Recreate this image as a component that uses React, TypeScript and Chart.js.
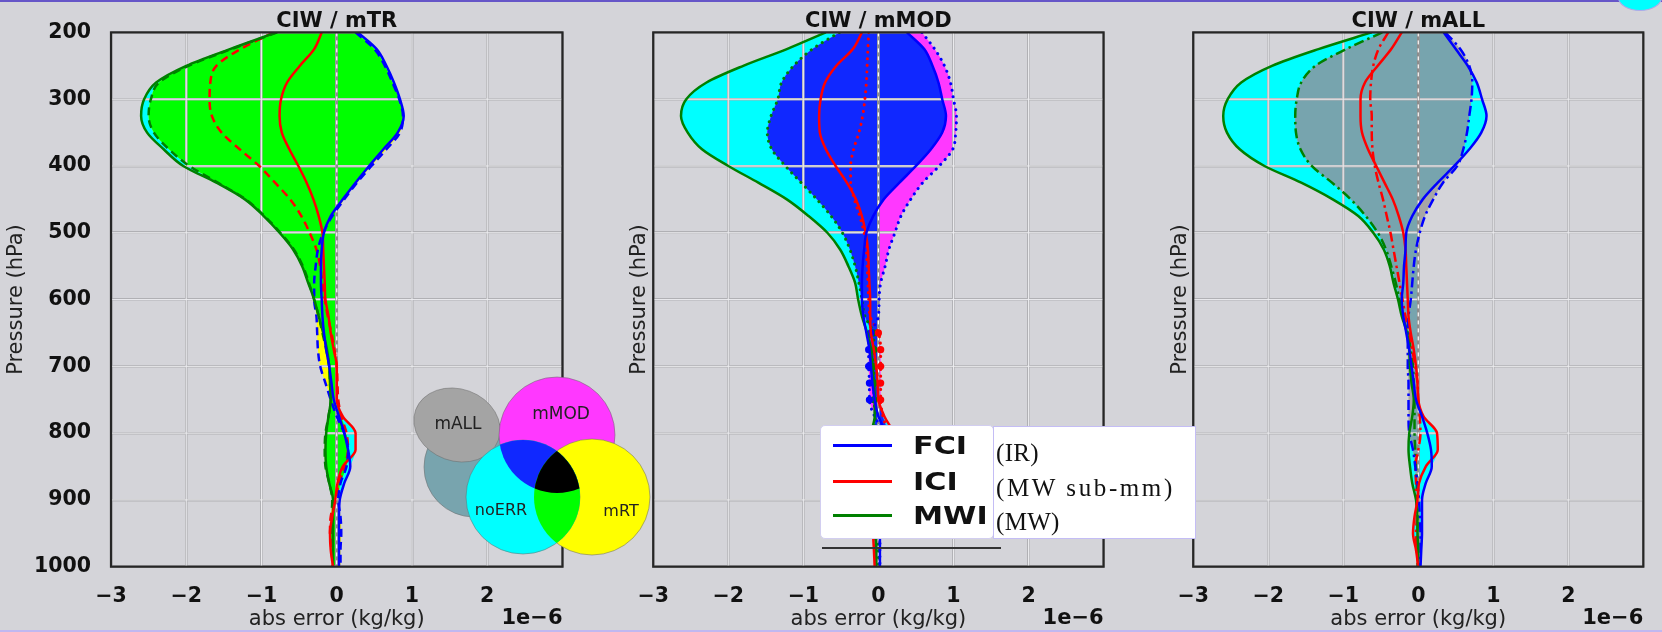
import React, { useEffect, useRef } from 'react';
import { Chart, registerables } from 'chart.js';

Chart.register(...registerables);

// ---------- data ----------
const PRESSURE = [200, 225, 250, 275, 300, 325, 350, 375, 400, 425, 450, 475, 500, 525, 550, 575, 600, 625, 650, 675, 700, 725, 750, 775, 800, 825, 850, 875, 900, 925, 950, 975, 1000];
const X_TICK_VALUES = [-3, -2, -1, 0, 1, 2, 3];
const ZERO_X = [0, 0];
const ZERO_P = [200, 1000];
const MMOD_MARKER_LEVELS = [650, 675, 700, 725, 750];

// panel 1 : CIW / mTR
const MTR_FCI_NOERR = [0.28, 0.53, 0.66, 0.76, 0.84, 0.89, 0.81, 0.62, 0.43, 0.25, 0.08, -0.08, -0.17, -0.2, -0.21, -0.21, -0.2, -0.19, -0.17, -0.14, -0.1, -0.07, -0.04, 0.03, 0.1, 0.15, 0.18, 0.1, 0.04, 0.03, 0.03, 0.03, 0.03];
const MTR_ICI_NOERR = [-0.2, -0.3, -0.49, -0.66, -0.74, -0.76, -0.73, -0.63, -0.51, -0.4, -0.31, -0.24, -0.19, -0.18, -0.17, -0.16, -0.15, -0.11, -0.08, -0.04, 0.0, 0.0, 0.0, 0.08, 0.25, 0.25, 0.08, 0.01, -0.02, -0.06, -0.09, -0.08, -0.05];
const MTR_MWI_NOERR = [-0.8, -1.42, -2.0, -2.4, -2.56, -2.6, -2.52, -2.3, -2.04, -1.6, -1.22, -0.97, -0.76, -0.58, -0.46, -0.38, -0.3, -0.24, -0.18, -0.13, -0.1, -0.09, -0.08, -0.11, -0.14, -0.15, -0.14, -0.1, -0.05, -0.05, -0.05, -0.05, -0.05];
const MTR_FCI_MOD = [0.25, 0.5, 0.64, 0.74, 0.83, 0.88, 0.84, 0.66, 0.46, 0.27, 0.1, -0.06, -0.18, -0.25, -0.28, -0.3, -0.3, -0.27, -0.26, -0.25, -0.22, -0.15, -0.08, 0.0, 0.1, 0.15, 0.13, 0.05, 0.02, 0.05, 0.06, 0.05, 0.05];
const MTR_ICI_MOD = [-0.84, -1.28, -1.6, -1.68, -1.69, -1.66, -1.53, -1.29, -1.03, -0.82, -0.62, -0.47, -0.36, -0.27, -0.22, -0.19, -0.16, -0.12, -0.07, -0.03, 0.0, 0.01, 0.02, 0.06, 0.13, 0.15, 0.1, 0.03, -0.02, -0.08, -0.09, -0.07, -0.05];
const MTR_MWI_MOD = [-0.79, -1.4, -1.97, -2.36, -2.47, -2.5, -2.43, -2.23, -1.96, -1.58, -1.21, -0.96, -0.75, -0.57, -0.45, -0.37, -0.3, -0.24, -0.19, -0.14, -0.1, -0.09, -0.08, -0.11, -0.15, -0.16, -0.15, -0.1, -0.06, -0.07, -0.08, -0.06, -0.05];

// panel 2 : CIW / mMOD
const MMOD_FCI_NOERR = [0.38, 0.61, 0.72, 0.8, 0.85, 0.9, 0.85, 0.7, 0.5, 0.28, 0.07, -0.07, -0.16, -0.19, -0.21, -0.22, -0.22, -0.2, -0.16, -0.12, -0.1, -0.08, -0.05, 0.0, 0.1, 0.15, 0.12, 0.05, 0.02, 0.02, 0.02, 0.02, 0.02];
const MMOD_ICI_NOERR = [-0.22, -0.34, -0.56, -0.71, -0.77, -0.79, -0.78, -0.7, -0.57, -0.42, -0.3, -0.22, -0.17, -0.14, -0.13, -0.12, -0.11, -0.11, -0.1, -0.06, -0.03, -0.01, 0.0, 0.08, 0.2, 0.22, 0.1, 0.02, -0.03, -0.06, -0.07, -0.06, -0.05];
const MMOD_MWI_NOERR = [-0.7, -1.22, -1.8, -2.29, -2.56, -2.63, -2.54, -2.35, -2.0, -1.6, -1.22, -0.93, -0.68, -0.51, -0.4, -0.31, -0.27, -0.22, -0.15, -0.1, -0.08, -0.06, -0.05, -0.05, -0.1, -0.12, -0.1, -0.06, -0.04, -0.04, -0.04, -0.03, -0.03];
const MMOD_FCI_MOD = [0.58, 0.75, 0.88, 0.96, 1.0, 1.04, 1.03, 0.99, 0.81, 0.59, 0.43, 0.3, 0.22, 0.14, 0.09, 0.03, 0.01, 0.0, -0.1, -0.13, -0.13, -0.12, -0.12, -0.05, 0.08, 0.12, 0.08, 0.03, 0.02, 0.02, 0.02, 0.02, 0.02];
const MMOD_ICI_MOD = [-0.13, -0.14, -0.15, -0.16, -0.18, -0.21, -0.26, -0.33, -0.37, -0.37, -0.32, -0.25, -0.19, -0.16, -0.15, -0.14, -0.13, -0.11, 0.0, 0.03, 0.03, 0.03, 0.03, 0.06, 0.12, 0.12, 0.06, 0.02, -0.02, -0.04, -0.04, -0.04, -0.04];
const MMOD_MWI_MOD = [-0.52, -0.88, -1.13, -1.29, -1.34, -1.43, -1.48, -1.42, -1.24, -1.03, -0.82, -0.63, -0.48, -0.38, -0.31, -0.26, -0.22, -0.18, -0.07, -0.06, -0.06, -0.06, -0.06, -0.04, -0.06, -0.08, -0.06, -0.03, -0.02, -0.01, -0.01, 0.0, 0.0];

// panel 3 : CIW / mALL
const MALL_FCI_NOERR = [0.34, 0.5, 0.66, 0.78, 0.85, 0.91, 0.84, 0.68, 0.48, 0.26, 0.06, -0.08, -0.16, -0.17, -0.19, -0.2, -0.22, -0.2, -0.16, -0.12, -0.09, -0.06, -0.03, 0.05, 0.12, 0.17, 0.18, 0.1, 0.05, 0.05, 0.05, 0.04, 0.03];
const MALL_ICI_NOERR = [-0.22, -0.36, -0.54, -0.71, -0.77, -0.77, -0.75, -0.67, -0.56, -0.45, -0.34, -0.26, -0.2, -0.17, -0.16, -0.15, -0.14, -0.13, -0.1, -0.06, -0.03, -0.01, 0.0, 0.07, 0.25, 0.26, 0.1, 0.01, -0.01, -0.05, -0.07, -0.03, 0.0];
const MALL_MWI_NOERR = [-0.62, -1.33, -1.95, -2.36, -2.54, -2.6, -2.55, -2.38, -2.05, -1.56, -1.14, -0.8, -0.6, -0.46, -0.38, -0.33, -0.27, -0.22, -0.15, -0.12, -0.11, -0.09, -0.06, -0.08, -0.12, -0.13, -0.11, -0.08, -0.03, -0.01, -0.01, 0.0, 0.0];
const MALL_FCI_MOD = [0.36, 0.56, 0.68, 0.72, 0.71, 0.68, 0.65, 0.6, 0.52, 0.33, 0.2, 0.09, 0.02, -0.03, -0.06, -0.08, -0.1, -0.13, -0.14, -0.14, -0.14, -0.13, -0.13, -0.13, -0.12, -0.07, -0.04, -0.01, 0.01, 0.02, 0.03, 0.03, 0.02];
const MALL_ICI_MOD = [-0.4, -0.53, -0.6, -0.63, -0.64, -0.62, -0.62, -0.61, -0.58, -0.53, -0.47, -0.42, -0.37, -0.33, -0.29, -0.25, -0.21, -0.17, -0.12, -0.08, -0.04, -0.01, 0.0, 0.02, 0.03, 0.0, -0.04, -0.03, -0.02, -0.02, -0.03, -0.02, 0.0];
const MALL_MWI_MOD = [-0.48, -0.96, -1.37, -1.56, -1.62, -1.64, -1.63, -1.57, -1.42, -1.15, -0.9, -0.7, -0.54, -0.43, -0.36, -0.3, -0.25, -0.21, -0.14, -0.1, -0.07, -0.06, -0.05, -0.05, -0.05, -0.04, -0.03, -0.02, -0.02, -0.01, -0.01, -0.01, -0.01];

const LEGEND_LABELS = ['FCI', 'ICI', 'MWI'];
const LEGEND_NOTES = ['(IR)', '(MW sub-mm)', '(MW)'];

// ---------- styling ----------
const FONT = '"DejaVu Sans", sans-serif';
const BG = '#d4d4d9';
const BLUE = '#0000ff';
const RED = '#ff0000';
const GREEN = '#008000';
const CYAN = '#00ffff';
const H = 632;
const PLOT_TOP = 32.4;
const PLOT_BOTTOM = 566.7;

type PanelSpec = {
  title: string;
  canvasLeft: number;
  canvasWidth: number;
  plotLeft: number;
  plotRight: number;
  showYTicks: boolean;
  yTitlePad: number;
  noerr: number[][]; // FCI, ICI, MWI
  mod: number[][];
  modColor: string;
  interColor: string;
  dash: number[];
  cap: 'butt' | 'round';
  modWidth: number;
  markers: boolean;
};

const PANELS: PanelSpec[] = [
  {
    title: 'CIW / mTR', canvasLeft: 0, canvasWidth: 600, plotLeft: 111, plotRight: 562.5,
    showYTicks: true, yTitlePad: 4.4,
    noerr: [MTR_FCI_NOERR, MTR_ICI_NOERR, MTR_MWI_NOERR],
    mod: [MTR_FCI_MOD, MTR_ICI_MOD, MTR_MWI_MOD],
    modColor: '#ffff00', interColor: '#00ff00', dash: [8, 5], cap: 'butt', modWidth: 2.5, markers: false,
  },
  {
    title: 'CIW / mMOD', canvasLeft: 620, canvasWidth: 520, plotLeft: 652.5, plotRight: 1103.6,
    showYTicks: false, yTitlePad: 6.7,
    noerr: [MMOD_FCI_NOERR, MMOD_ICI_NOERR, MMOD_MWI_NOERR],
    mod: [MMOD_FCI_MOD, MMOD_ICI_MOD, MMOD_MWI_MOD],
    modColor: '#ff38ff', interColor: '#1028ff', dash: [0.1, 6.5], cap: 'round', modWidth: 3, markers: true,
  },
  {
    title: 'CIW / mALL', canvasLeft: 1160, canvasWidth: 502, plotLeft: 1192.7, plotRight: 1643.3,
    showYTicks: false, yTitlePad: 7.4,
    noerr: [MALL_FCI_NOERR, MALL_ICI_NOERR, MALL_MWI_NOERR],
    mod: [MALL_FCI_MOD, MALL_ICI_MOD, MALL_MWI_MOD],
    modColor: '#a6a6a6', interColor: '#77a4ae', dash: [10, 4, 2.5, 4], cap: 'butt', modWidth: 2.5, markers: false,
  },
];

const pts = (arr: number[]) => PRESSURE.map((p, i) => ({ x: arr[i], y: p }));

const envelope = (arrs: number[][]) => ({
  lo: PRESSURE.map((_, i) => Math.min(0, ...arrs.map((a) => a[i]))),
  hi: PRESSURE.map((_, i) => Math.max(0, ...arrs.map((a) => a[i]))),
});

const band = (lo: number[], hi: number[], color: string) => [
  { data: pts(lo), borderColor: 'rgba(0,0,0,0)', borderWidth: 0, pointRadius: 0, backgroundColor: color, fill: '+1', cubicInterpolationMode: 'monotone' },
  { data: pts(hi), borderColor: 'rgba(0,0,0,0)', borderWidth: 0, pointRadius: 0, backgroundColor: color, fill: false, cubicInterpolationMode: 'monotone' },
];

const curve = (arr: number[], color: string, dash: number[], width: number, cap: string, extra: any = {}) => ({
  data: pts(arr), borderColor: color, backgroundColor: color, borderWidth: width, borderDash: dash,
  borderCapStyle: cap, pointRadius: 0, pointBorderWidth: 0, fill: false, cubicInterpolationMode: 'monotone', ...extra,
});

const minusFmt = (v: number) => (v < 0 ? '\u2212' + Math.abs(v) : String(v));

function buildConfig(s: PanelSpec): any {
  const envA = envelope(s.noerr);
  const envB = envelope(s.mod);
  const inter = {
    lo: envA.lo.map((v, i) => Math.max(v, envB.lo[i])),
    hi: envA.hi.map((v, i) => Math.min(v, envB.hi[i])),
  };
  const colors = [BLUE, RED, GREEN];
  const markerExtra = (c: string) =>
    s.markers
      ? { pointRadius: PRESSURE.map((p) => (MMOD_MARKER_LEVELS.includes(p) ? 3.6 : 0)), pointBackgroundColor: c }
      : {};
  const zeroPts = ZERO_P.map((p, i) => ({ x: ZERO_X[i], y: p }));

  const datasets = [
    ...band(inter.lo, inter.hi, s.interColor),
    ...band(envB.lo, envB.hi, s.modColor),
    ...band(envA.lo, envA.hi, CYAN),
    ...s.noerr.map((a, k) => curve(a, colors[k], [], 2.5, 'butt')),
    ...s.mod.map((a, k) => curve(a, colors[k], s.dash, s.modWidth, s.cap, markerExtra(colors[k]))),
    { data: zeroPts, borderColor: '#ffffff', borderWidth: 1.2, borderDash: [4, 4], pointRadius: 0, fill: false, tension: 0 },
    { data: zeroPts, borderColor: '#8c8c8c', borderWidth: 2.6, pointRadius: 0, fill: false, tension: 0 },
  ];

  const gridOpts = { color: '#b0b0b4', lineWidth: 2.6, drawTicks: false };
  const tickFont = { family: FONT, size: 20.5, weight: 'bold' };

  const panelPlugin = {
    id: 'panelDecor' + s.title,
    beforeDatasetsDraw(chart: any) {
      const { ctx, chartArea: a, scales } = chart;
      ctx.save();
      ctx.strokeStyle = '#ececef';
      ctx.lineWidth = 1;
      scales.x.ticks.forEach((t: any) => {
        const px = scales.x.getPixelForValue(t.value);
        ctx.beginPath();
        ctx.moveTo(px, a.top);
        ctx.lineTo(px, a.bottom);
        ctx.stroke();
      });
      scales.y.ticks.forEach((t: any) => {
        const py = scales.y.getPixelForValue(t.value);
        ctx.beginPath();
        ctx.moveTo(a.left, py);
        ctx.lineTo(a.right, py);
        ctx.stroke();
      });
      ctx.restore();
    },
    afterDatasetsDraw(chart: any) {
      const { ctx, chartArea: a } = chart;
      ctx.save();
      ctx.strokeStyle = '#262626';
      ctx.lineWidth = 2.2;
      ctx.strokeRect(a.left, a.top, a.right - a.left, a.bottom - a.top);
      ctx.restore();
    },
    afterDraw(chart: any) {
      const { ctx, chartArea: a } = chart;
      ctx.save();
      ctx.font = `bold 21px ${FONT}`;
      ctx.fillStyle = '#111';
      ctx.textAlign = 'right';
      ctx.textBaseline = 'middle';
      ctx.fillText('1e\u22126', a.right, 619);
      ctx.restore();
    },
  };

  return {
    type: 'line',
    data: { datasets },
    plugins: [panelPlugin],
    options: {
      animation: false,
      responsive: false,
      maintainAspectRatio: false,
      indexAxis: 'y',
      events: [],
      layout: { padding: { left: 0, top: 0, bottom: 0, right: s.canvasWidth - (s.plotRight - s.canvasLeft) } },
      plugins: {
        legend: { display: false },
        tooltip: { enabled: false },
        filler: { propagate: false, drawTime: 'beforeDraw' },
        title: {
          display: true, text: s.title, color: '#111', fullSize: false,
          font: { family: FONT, size: 21, weight: 'bold', lineHeight: 1 },
          padding: { top: 11.4, bottom: PLOT_TOP - 11.4 - 21 },
        },
      },
      scales: {
        x: {
          type: 'linear', min: X_TICK_VALUES[0], max: X_TICK_VALUES[X_TICK_VALUES.length - 1],
          afterFit: (sc: any) => { sc.height = H - PLOT_BOTTOM; },
          border: { display: false },
          grid: gridOpts,
          ticks: {
            stepSize: 1, autoSkip: false, maxRotation: 0, padding: 17.5, color: '#111', font: tickFont,
            callback: (v: number) => (v === X_TICK_VALUES[X_TICK_VALUES.length - 1] ? '' : minusFmt(v)),
          },
          title: { display: true, text: 'abs error (kg/kg)', color: '#222', font: { family: FONT, size: 21 }, padding: { top: 0, bottom: 0 } },
        },
        y: {
          type: 'linear', reverse: true, min: PRESSURE[0], max: PRESSURE[PRESSURE.length - 1],
          afterFit: (sc: any) => { sc.width = s.plotLeft - s.canvasLeft; },
          border: { display: false },
          grid: gridOpts,
          ticks: {
            display: s.showYTicks, stepSize: 100, padding: 20, color: '#111', font: tickFont,
            callback: (v: number) => String(v),
          },
          title: { display: true, text: 'Pressure (hPa)', color: '#222', font: { family: FONT, size: 21 }, padding: { top: s.yTitlePad, bottom: 0 } },
        },
      },
    },
  };
}

function Panel({ spec }: { spec: PanelSpec }) {
  const ref = useRef<HTMLCanvasElement>(null);
  useEffect(() => {
    const chart = new Chart(ref.current as HTMLCanvasElement, buildConfig(spec));
    return () => chart.destroy();
  }, [spec]);
  return (
    <canvas
      ref={ref}
      width={spec.canvasWidth}
      height={H}
      style={{ position: 'absolute', left: spec.canvasLeft, top: 0, width: spec.canvasWidth, height: H }}
    />
  );
}

// Venn-style key drawn as an inset picture
const VENN_LEFT = 395;
const VENN_TOP = 360;
function Venn() {
  const ref = useRef<HTMLCanvasElement>(null);
  useEffect(() => {
    const c = ref.current as HTMLCanvasElement;
    const ctx = c.getContext('2d') as CanvasRenderingContext2D;
    ctx.clearRect(0, 0, c.width, c.height);
    ctx.save();
    ctx.translate(-VENN_LEFT, -VENN_TOP);
    const circ = (x: number, y: number, r: number) => { ctx.beginPath(); ctx.arc(x, y, r, 0, Math.PI * 2); };
    const paint = (col: string) => { ctx.fillStyle = col; ctx.fill(); ctx.strokeStyle = 'rgba(110,110,110,0.55)'; ctx.lineWidth = 1; ctx.stroke(); };
    const cy = [523, 497, 57];
    const mg = [557, 435, 58];
    const ye = [592, 497, 58];
    circ(474, 467, 50); paint('#78a4ae');
    ctx.beginPath(); ctx.ellipse(457, 425, 44, 36, 0.35, 0, Math.PI * 2); paint('#a4a4a4');
    circ(mg[0], mg[1], mg[2]); paint('#ff38ff');
    circ(ye[0], ye[1], ye[2]); paint('#ffff00');
    circ(cy[0], cy[1], cy[2]); paint(CYAN);
    ctx.save();
    circ(cy[0], cy[1], cy[2]); ctx.clip();
    circ(mg[0], mg[1], mg[2]); ctx.fillStyle = '#1028ff'; ctx.fill();
    circ(ye[0], ye[1], ye[2]); ctx.fillStyle = '#00ff00'; ctx.fill();
    circ(mg[0], mg[1], mg[2]); ctx.clip();
    circ(ye[0], ye[1], ye[2]); ctx.fillStyle = '#000000'; ctx.fill();
    ctx.restore();
    ctx.fillStyle = '#222';
    ctx.textAlign = 'center';
    ctx.textBaseline = 'middle';
    ctx.font = `17px ${FONT}`;
    ctx.fillText('mALL', 458, 425);
    ctx.fillText('mMOD', 561, 415);
    ctx.font = `16px ${FONT}`;
    ctx.fillText('noERR', 501, 511);
    ctx.fillText('mRT', 621, 512);
    ctx.restore();
  }, []);
  return <canvas ref={ref} width={270} height={210} style={{ position: 'absolute', left: VENN_LEFT, top: VENN_TOP }} />;
}

const LEGEND_Y = [445.7, 481, 515];
const NOTE_Y = [455, 490, 524];
const LEGEND_COLORS = [BLUE, RED, GREEN];

export default function App() {
  return (
    <div style={{ position: 'absolute', left: 0, top: 0, width: 1662, height: H, background: BG, overflow: 'hidden' }}>
      {PANELS.map((p) => <Panel key={p.title} spec={p} />)}
      <Venn />
      {/* legend */}
      <div style={{ position: 'absolute', left: 820, top: 425, width: 174, height: 114, background: '#fff', borderRadius: 5, border: '1px solid #d2cef0', boxSizing: 'border-box' }} />
      <div style={{ position: 'absolute', left: 993, top: 426, width: 203, height: 113, background: '#fff', border: '1px solid #c4bdf5', boxSizing: 'border-box' }} />
      {LEGEND_LABELS.map((lab, i) => (
        <React.Fragment key={lab}>
          <div style={{ position: 'absolute', left: 833, top: LEGEND_Y[i] - 1.5, width: 59, height: 3, background: LEGEND_COLORS[i] }} />
          <div style={{ position: 'absolute', left: 913, top: LEGEND_Y[i] - 14.5, height: 30, lineHeight: '30px', fontFamily: FONT, fontWeight: 'bold', fontSize: 24, color: '#111', whiteSpace: 'nowrap', transform: 'scaleX(1.26)', transformOrigin: 'left center' }}>{lab}</div>
        </React.Fragment>
      ))}
      {LEGEND_NOTES.map((t, i) => (
        <div key={t} style={{ position: 'absolute', left: 996, top: NOTE_Y[i] - 16.7, height: 30, lineHeight: '30px', fontFamily: '"Liberation Serif", "DejaVu Serif", serif', fontSize: 25, color: '#111', whiteSpace: 'nowrap', letterSpacing: i === 1 ? 2.6 : 0.3 }}>{t}</div>
      ))}
      <div style={{ position: 'absolute', left: 822, top: 546.5, width: 179, height: 2.5, background: '#333' }} />
      {/* slide frame decorations */}
      <div style={{ position: 'absolute', left: 0, top: 0, width: 1662, height: 2, background: '#6656c8' }} />
      <div style={{ position: 'absolute', left: 0, top: 630, width: 1662, height: 2, background: '#c0b8f0' }} />
      <div style={{ position: 'absolute', left: 1618, top: -16, width: 42, height: 25, borderRadius: '50%', background: CYAN, border: '1px solid #b0a8e8' }} />
    </div>
  );
}
